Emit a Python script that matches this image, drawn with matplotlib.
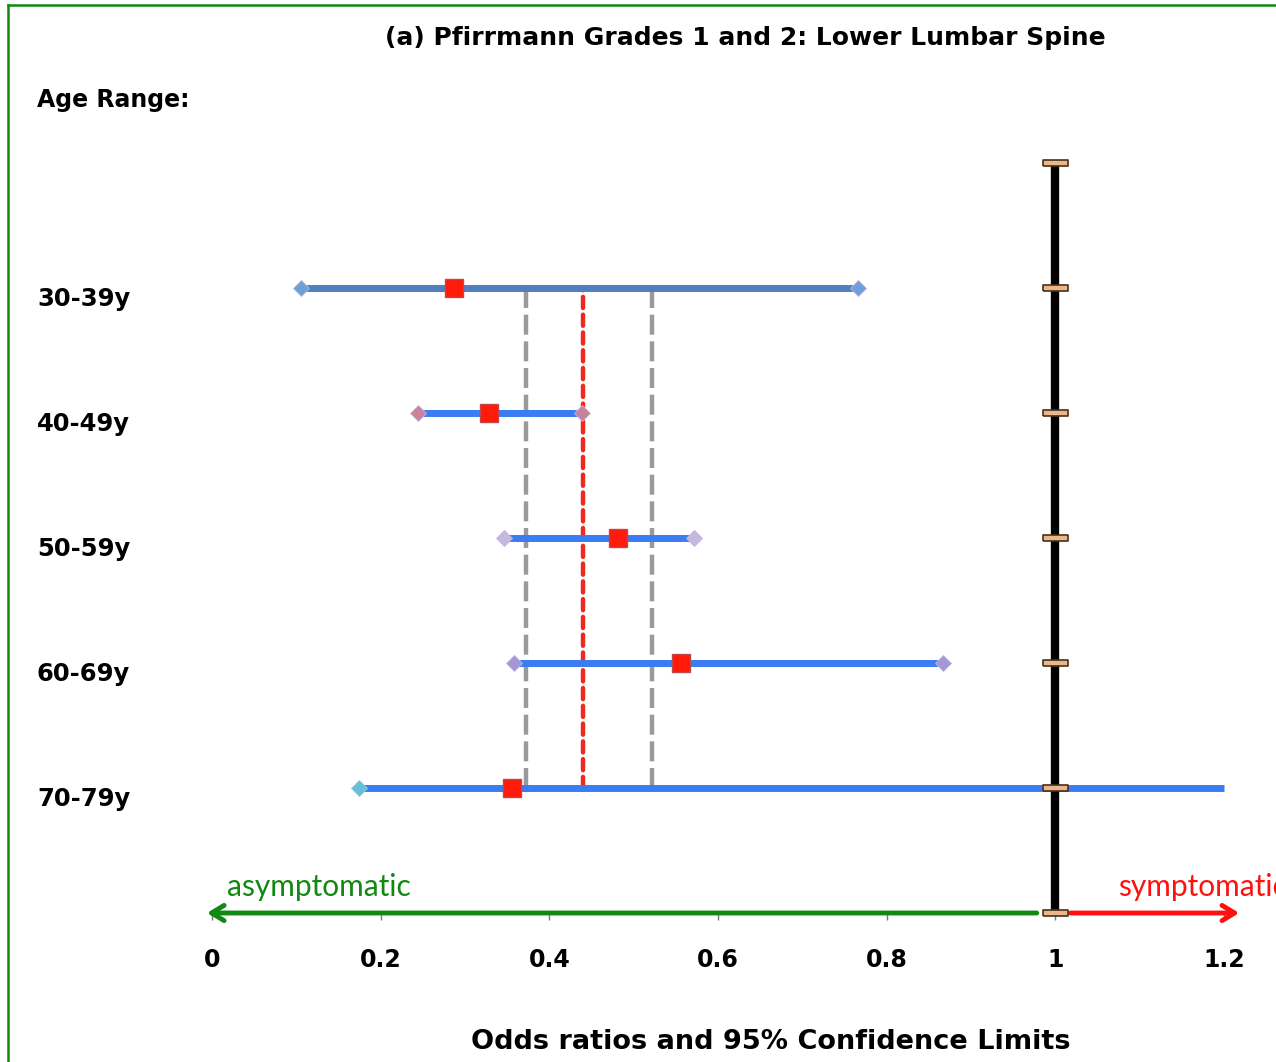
import matplotlib.pyplot as plt
from matplotlib.lines import Line2D
from matplotlib.transforms import blended_transform_factory

# age ranges, top to bottom
ages = ['30-39y', '40-49y', '50-59y', '60-69y', '70-79y']
# odds ratios and 95% confidence limits
odds = [0.287, 0.329, 0.482, 0.556, 0.356]
lower = [0.106, 0.244, 0.346, 0.358, 0.174]
upper = [0.766, 0.439, 0.572, 0.867, 1.20]
# pooled estimate and its limits (vertical dashed lines)
pooled = 0.440
pooled_lo = 0.372
pooled_hi = 0.522

xticks = [0, 0.2, 0.4, 0.6, 0.8, 1, 1.2]
xticklabels = ['0', '0.2', '0.4', '0.6', '0.8', '1', '1.2']

line_colors = ['#4f80bd', '#3b7cf2', '#3b7cf2', '#3b7cf2', '#3b7cf2']
diamond_colors = ['#6f9fd8', '#c9829c', '#c7b8e0', '#a796d6', '#62c1d4']


def main():
    W, H = 1276, 1062
    fig = plt.figure(figsize=(W / 100, H / 100), dpi=100)
    left, right = 212, 1224
    bottom, top = 913, 163
    ax = fig.add_axes([left / W, 1 - bottom / H, (right - left) / W, (bottom - top) / H])
    ax.set_xlim(0, 1.2)
    ax.set_ylim(0, 6)

    ypos = [5, 4, 3, 2, 1]
    bold = 'DejaVu Sans'
    plain = ['Lato', 'DejaVu Sans']

    # pooled dashed lines
    ax.plot([pooled_lo, pooled_lo], [1, 5], color='#9a9a9a', lw=3.2,
            linestyle=(0, (4.5, 1.5)), zorder=2)
    ax.plot([pooled_hi, pooled_hi], [1, 5], color='#9a9a9a', lw=3.2,
            linestyle=(0, (4.5, 1.5)), zorder=2)
    ax.plot([pooled, pooled], [1, 5], color='#ee2a1e', lw=3.2,
            linestyle=(0, (2.5, 1.5)), dash_capstyle='round', zorder=3)

    # confidence intervals
    for i, y in enumerate(ypos):
        ax.plot([lower[i], upper[i]], [y, y], color=line_colors[i], lw=5,
                solid_capstyle='butt', zorder=4, clip_on=False)
        ax.plot([lower[i]], [y], marker='D', ms=8.5, color=diamond_colors[i],
                mec='#b8b8d8', mew=0.6, zorder=5, clip_on=False)
        if upper[i] < 1.2:
            ax.plot([upper[i]], [y], marker='D', ms=8.5, color=diamond_colors[i],
                    mec='#b8b8d8', mew=0.6, zorder=5, clip_on=False)
        ax.plot([odds[i]], [y], marker='s', ms=13, color='#ff1a0a',
                mec='#c04848', mew=1, zorder=6, clip_on=False)

    # arrows along the bottom
    ax.annotate('', xy=(-0.006, 0), xytext=(0.978, 0),
                arrowprops=dict(arrowstyle='->,head_length=0.9,head_width=0.55',
                                color='#118811', lw=3.5, shrinkA=0, shrinkB=0),
                annotation_clip=False, zorder=4)
    ax.annotate('', xy=(1.218, 0), xytext=(1.018, 0),
                arrowprops=dict(arrowstyle='->,head_length=0.9,head_width=0.55',
                                color='#ff1010', lw=3.5, shrinkA=0, shrinkB=0),
                annotation_clip=False, zorder=4)
    ax.text(0.018, 0.21, 'asymptomatic', color='#118811', fontsize=21.5,
            family=plain, ha='left', va='center', clip_on=False)
    ax.text(1.074, 0.21, 'symptomatic', color='#ff1010', fontsize=21.5,
            family=plain, ha='left', va='center', clip_on=False)

    # reference line at odds ratio 1 with tan tick marks
    ax.plot([1, 1], [0, 6], color='black', lw=6, zorder=7, solid_capstyle='butt')
    tick_marker = [(-4, -0.9), (4, -0.9), (4, 0.9), (-4, 0.9), (-4, -0.9)]
    ax.plot([1] * 7, range(7), linestyle='none', marker=tick_marker, ms=18,
            color='#e8b88c', mec='#4a3018', mew=1.2, zorder=8, clip_on=False)

    # axes styling
    for s in ax.spines.values():
        s.set_visible(False)
    ax.set_yticks([])
    ax.set_xticks(xticks)
    ax.set_xticklabels(xticklabels, fontsize=17, fontweight='bold', family=bold)
    ax.tick_params(axis='x', length=5, width=1, color='#777777', pad=20)

    # row labels
    trans = blended_transform_factory(fig.transFigure, ax.transData)
    for i, y in enumerate(ypos):
        ax.text(37 / W, y - 0.09, ages[i], transform=trans, fontsize=17.5,
                fontweight='bold', family=bold, ha='left', va='center')

    fig.text(37 / W, 1 - 100 / H, 'Age Range:', fontsize=17, fontweight='bold',
             family=bold, ha='left', va='center')
    fig.text(745 / W, 1 - 38 / H, '(a) Pfirrmann Grades 1 and 2: Lower Lumbar Spine',
             fontsize=18, fontweight='bold', family=bold, ha='center', va='center')
    fig.text(771 / W, 1 - 1042 / H, 'Odds ratios and 95% Confidence Limits',
             fontsize=19.5, fontweight='bold', family=bold, ha='center', va='center')

    # green frame on the left and top
    fig.add_artist(Line2D([8 / W, 8 / W], [0, 1 - 5 / H], color='#118811', lw=1.8,
                          transform=fig.transFigure))
    fig.add_artist(Line2D([8 / W, 1.01], [1 - 5 / H, 1 - 5 / H], color='#118811', lw=1.8,
                          transform=fig.transFigure))

    plt.savefig('out.png', dpi=100)


if __name__ == '__main__':
    main()
